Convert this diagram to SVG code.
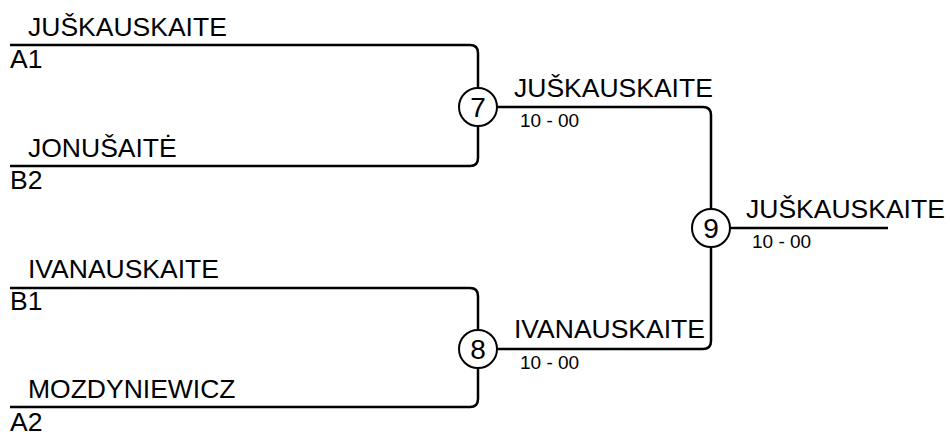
<svg xmlns="http://www.w3.org/2000/svg" width="950" height="434" viewBox="0 0 950 434">
<style>
.ln{fill:none;stroke:#000;stroke-width:2.5}
.cir{fill:#fff;stroke:#000;stroke-width:2}
.nm{font-family:"Liberation Sans",Arial,sans-serif;font-size:26.5px;fill:#000}
.sc{font-family:"Liberation Sans",Arial,sans-serif;font-size:19px;fill:#000}
.num{font-family:"Liberation Sans",Arial,sans-serif;font-size:28px;fill:#000;text-anchor:middle}
</style>
<rect width="950" height="434" fill="#fff"/>
<g id="connectors">
<path class="ln" d="M10 45 H470 Q478 45 478 53 V88"/>
<path class="ln" d="M10 166 H470 Q478 166 478 158 V126"/>
<path class="ln" d="M10 288 H470 Q478 288 478 296 V330"/>
<path class="ln" d="M10 407 H470 Q478 407 478 399 V368"/>
<path class="ln" d="M497 107 H703 Q711 107 711 115 V209"/>
<path class="ln" d="M497 349 H703 Q711 349 711 341 V247"/>
<path class="ln" d="M730 228 H888"/>
</g>
<g id="entry-a1"><text class="nm" x="28" y="36">JUŠKAUSKAITE</text><text class="nm" x="10" y="68">A1</text></g>
<g id="entry-b2"><text class="nm" x="28" y="157">JONUŠAITĖ</text><text class="nm" x="10" y="189">B2</text></g>
<g id="entry-b1"><text class="nm" x="28" y="278">IVANAUSKAITE</text><text class="nm" x="10" y="310">B1</text></g>
<g id="entry-a2"><text class="nm" x="28" y="398">MOZDYNIEWICZ</text><text class="nm" x="10" y="431">A2</text></g>
<g id="match-7"><circle class="cir" cx="478" cy="107" r="19"/><text class="num" x="478" y="117">7</text>
<text class="nm" x="514" y="97">JUŠKAUSKAITE</text><text class="sc" x="520" y="127">10 - 00</text></g>
<g id="match-8"><circle class="cir" cx="478" cy="349" r="19"/><text class="num" x="478" y="359">8</text>
<text class="nm" x="514" y="338">IVANAUSKAITE</text><text class="sc" x="520" y="369">10 - 00</text></g>
<g id="match-9"><circle class="cir" cx="711" cy="228" r="19"/><text class="num" x="711" y="238">9</text>
<text class="nm" x="746" y="218">JUŠKAUSKAITE</text><text class="sc" x="752" y="248">10 - 00</text></g>
</svg>
